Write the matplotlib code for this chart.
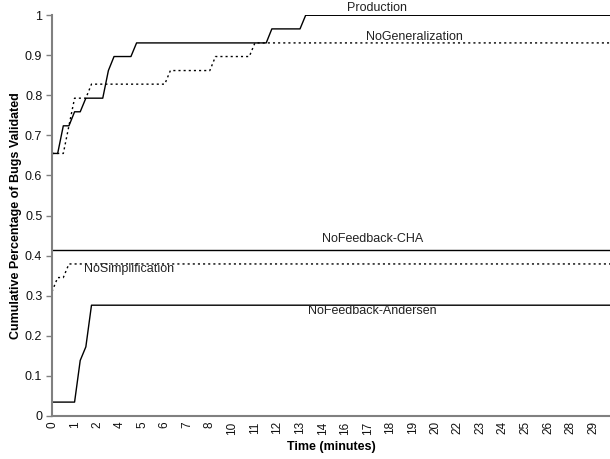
import numpy as np
import matplotlib
matplotlib.use('Agg')
import matplotlib.pyplot as plt

plt.rcParams['font.family'] = ['Liberation Sans', 'DejaVu Sans']

# time (minutes) and fraction of bugs validated at each vertex
prod_t = [0, 0.3, 0.6, 0.9, 1.2, 1.5, 1.8, 2.7, 3.0, 3.3, 4.2, 4.5, 11.4, 11.7, 13.2, 13.5, 29.7]
prod_v = [0.655, 0.655, 0.724, 0.724, 0.759, 0.759, 0.793, 0.793, 0.862, 0.897, 0.897,
          0.931, 0.931, 0.966, 0.966, 1.0, 1.0]

nogen_t = [0, 0.6, 0.9, 1.2, 1.8, 2.1, 6.0, 6.3, 8.4, 8.7, 10.5, 10.8, 29.7]
nogen_v = [0.655, 0.655, 0.724, 0.793, 0.793, 0.828, 0.828, 0.862, 0.862, 0.897, 0.897, 0.931, 0.931]

cha_t = [0, 29.7]
cha_v = [0.414, 0.414]

nosimp_t = [0, 0.3, 0.6, 0.9, 29.7]
nosimp_v = [0.310, 0.345, 0.345, 0.379, 0.379]

anders_t = [0, 1.2, 1.5, 1.8, 2.1, 29.7]
anders_v = [0.034, 0.034, 0.138, 0.172, 0.276, 0.276]

tick_labels = ['0', '1', '2', '4', '5', '6', '7', '8', '10', '11', '12', '13', '14',
               '16', '17', '18', '19', '20', '22', '23', '24', '25', '26', '28', '29']
tick_step = 1.2  # a label every 4th sample (samples every 0.3 min)

fig = plt.figure(figsize=(6.1, 4.59), dpi=100)
ax = fig.add_axes([0.0853, 0.0943, 0.9147, 0.8724])

solid = dict(color='black', lw=1.0)
dotted = dict(color='black', lw=1.0, linestyle=(0, (1.5, 2.2)))

ax.plot(prod_t, prod_v, **solid)
ax.plot(nogen_t, nogen_v, **dotted)
ax.plot(cha_t, cha_v, **solid)
ax.plot(nosimp_t, nosimp_v, **dotted)
ax.plot(anders_t, anders_v, **solid)

# series names written beside the lines
names = [('Production', 17.3, 1.019),
         ('NoGeneralization', 19.3, 0.945),
         ('NoFeedback-CHA', 17.05, 0.442),
         ('NoSimplification', 4.1, 0.366),
         ('NoFeedback-Andersen', 17.05, 0.262)]
for txt, x, y in names:
    ax.text(x, y, txt, ha='center', va='center', fontsize=9, color='#222222', clip_on=False)

ax.set_xlim(0, 29.7)
ax.set_ylim(0, 1)
ax.set_xticks(np.arange(len(tick_labels)) * tick_step)
ax.set_xticklabels(tick_labels, rotation=90, fontsize=8.5)
ax.set_yticks(np.arange(0, 1.01, 0.1))
ax.set_yticklabels(['0', '0.1', '0.2', '0.3', '0.4', '0.5', '0.6', '0.7', '0.8', '0.9', '1'], fontsize=9)
ax.tick_params(axis='x', length=0, pad=4, colors='#111111')
ax.tick_params(axis='y', length=4, width=1, color='#808080', labelcolor='#111111', pad=3)

for s in ['top', 'right']:
    ax.spines[s].set_visible(False)
for s in ['left', 'bottom']:
    ax.spines[s].set_color('#808080')
    ax.spines[s].set_linewidth(1.5)

ax.set_xlabel('Time (minutes)', fontsize=9, fontweight='bold', labelpad=5)
ax.set_ylabel('Cumulative Percentage of Bugs Validated', fontsize=9, fontweight='bold', labelpad=2)

fig.savefig('out.png', dpi=100)
